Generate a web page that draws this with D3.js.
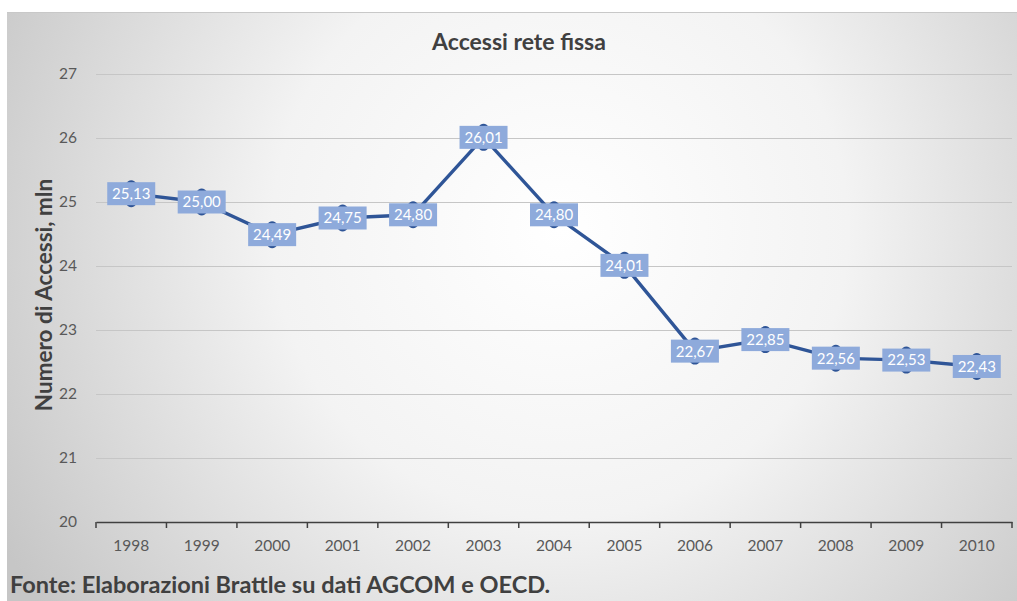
<!DOCTYPE html>
<html><head><meta charset="utf-8">
<script src="https://cdn.jsdelivr.net/npm/d3@7"></script>
<style>body{margin:0;background:#fff}svg{display:block}</style>
</head><body>
<script>
const years = ["1998","1999","2000","2001","2002","2003","2004","2005","2006","2007","2008","2009","2010"];
const values = [25.13,25.00,24.49,24.75,24.80,26.01,24.80,24.01,22.67,22.85,22.56,22.53,22.43];
const yTicks = [20,21,22,23,24,25,26,27];
const title = "Accessi rete fissa";
const yLabel = "Numero di Accessi, mln";
const source = "Fonte: Elaborazioni Brattle su dati AGCOM e OECD.";

const W = 1017, H = 601;
const svg = d3.select("body").append("svg").attr("width", W).attr("height", H);
const defs = svg.append("defs");
const grad = defs.append("radialGradient").attr("id","bg")
  .attr("gradientUnits","userSpaceOnUse").attr("cx",560).attr("cy",230).attr("r",640);
grad.append("stop").attr("offset","0%").attr("stop-color","#ffffff");
grad.append("stop").attr("offset","45%").attr("stop-color","#f3f3f3");
grad.append("stop").attr("offset","100%").attr("stop-color","#c6c6c6");
svg.append("rect").attr("x",7).attr("y",12).attr("width",W-7).attr("height",H-12).attr("fill","url(#bg)");
svg.append("line").attr("x1",7).attr("x2",W).attr("y1",12.5).attr("y2",12.5).attr("stroke","#c8c8c8");

const x = d3.scaleBand().domain(years).range([96,1012]);
const y = d3.scaleLinear().domain([20,27]).range([522,74]);
const font = "Lato, 'Open Sans', sans-serif";

// grid
svg.append("g").selectAll("line").data(yTicks.filter(t=>t>20)).join("line")
  .attr("x1",96).attr("x2",1012).attr("y1",d=>y(d)+0.5).attr("y2",d=>y(d)+0.5)
  .attr("stroke","#c6c6c6").attr("stroke-width",1.2);

// y axis labels
const ya = svg.append("g").attr("transform","translate(96,0)")
  .call(d3.axisLeft(y).tickValues(yTicks).tickSize(0).tickPadding(19).tickFormat(d3.format("d")));
ya.select(".domain").remove();
ya.selectAll("text").attr("font-family",font).attr("font-size",15.5).attr("fill","#595959");

// x axis
const xa = svg.append("g").attr("transform","translate(0,522)")
  .call(d3.axisBottom(x).tickSizeOuter(0).tickSize(0).tickPadding(18));
xa.select(".domain").attr("stroke","#404040").attr("stroke-width",1.5);
xa.selectAll("text").attr("font-family",font).attr("font-size",15.5).attr("fill","#595959");
const bounds = years.map(d=>x(d)).concat([x(years[years.length-1])+x.bandwidth()]);
xa.append("g").selectAll("line").data(bounds).join("line")
  .attr("x1",d=>d).attr("x2",d=>d).attr("y1",0).attr("y2",6)
  .attr("stroke","#404040").attr("stroke-width",1.5);

// line
const pts = years.map((yr,i)=>({yr, v:values[i]}));
const cx = d=>x(d.yr)+x.bandwidth()/2;
svg.append("path").datum(pts)
  .attr("d", d3.line().x(cx).y(d=>y(d.v)))
  .attr("fill","none").attr("stroke","#2f5597").attr("stroke-width",3.4).attr("stroke-linejoin","round");

// markers
svg.append("g").selectAll("ellipse").data(pts).join("ellipse")
  .attr("cx",cx).attr("cy",d=>y(d.v)).attr("rx",8).attr("ry",13.5)
  .attr("fill","#2f5597");

// labels
const fmt = v => v.toFixed(2).replace(".",",");
const lg = svg.append("g").selectAll("g").data(pts).join("g")
  .attr("transform",d=>`translate(${cx(d)},${y(d.v)})`);
lg.append("rect").attr("x",-24).attr("y",-11.5).attr("width",48).attr("height",23).attr("fill","#8eaadb");
lg.append("text").text(d=>fmt(d.v)).attr("text-anchor","middle").attr("dy","0.36em")
  .attr("font-family",font).attr("font-size",15).attr("fill","#ffffff");

// title
svg.append("text").attr("x",519).attr("y",50).attr("text-anchor","middle")
  .attr("font-family",font).attr("font-weight",700).attr("font-size",23).attr("fill","#404040").text(title);

// y label
svg.append("text").attr("transform","translate(52,295) rotate(-90)").attr("text-anchor","middle")
  .attr("font-family",font).attr("font-weight",700).attr("font-size",22.5).attr("fill","#404040").text(yLabel);

// source
svg.append("text").attr("x",10).attr("y",593)
  .attr("font-family",font).attr("font-weight",700).attr("font-size",23.5).attr("fill","#404040").text(source);
</script>
</body></html>
